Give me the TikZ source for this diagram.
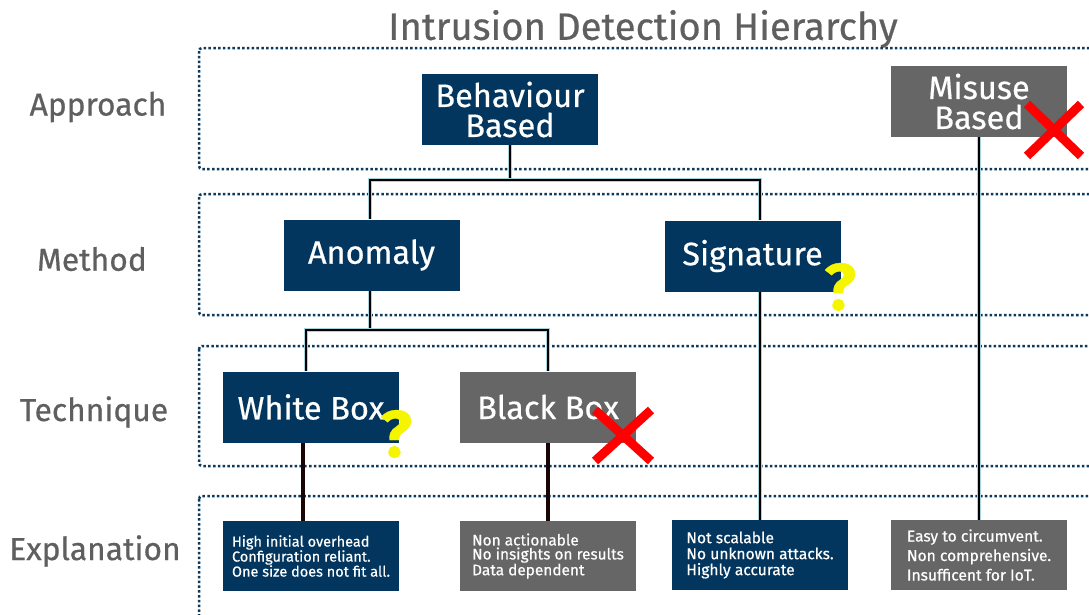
\documentclass[tikz,border=0pt]{standalone}
\usepackage{fontspec}
\setmainfont{Fira Sans}[FakeBold=0.5]
\definecolor{navy}{HTML}{03365F}
\definecolor{slate}{HTML}{666666}
\definecolor{labelgray}{HTML}{5F5F5F}
\definecolor{dotblue}{HTML}{0B3A5E}
\definecolor{halo}{HTML}{A8D4E0}
\definecolor{stem}{HTML}{1A0505}
\definecolor{warnyellow}{HTML}{F5F500}
\tikzset{
  band/.style={draw=dotblue, line width=2.5pt, dash pattern=on 2.5pt off 2.3pt, rounded corners=3pt},
  rowlabel/.style={text=labelgray, font=\fontsize{31.8}{32}\selectfont},
  box/.style={rectangle, minimum width=176pt, minimum height=71pt, inner sep=0pt,
    text=white, align=center, font=\fontsize{32.5}{30}\selectfont},
  note/.style={rectangle, minimum width=176pt, minimum height=70pt, inner sep=0pt,
    align=left, text=white},
  blue/.style={fill=navy},
  grey/.style={fill=slate},
  trunk/.style={draw=black, line width=2.6pt, preaction={draw=halo, line width=4.6pt}},
  drop/.style={draw=stem, line width=3.8pt},
  xmark/.style={draw=red, line width=9pt},
  qmark/.style={text=warnyellow, font=\fontsize{66}{66}\selectfont\bfseries}
}
\begin{document}
\begin{tikzpicture}[x=1pt, y=-1pt]
\useasboundingbox (0,0) rectangle (1089,614);
\clip (0,0) rectangle (1089,614);
\fill[white] (0,0) rectangle (1089,614);

% title
\node[text=labelgray, font=\fontsize{38.2}{38}\selectfont] (title) at (643,29) {Intrusion Detection Hierarchy};

% dotted row bands
\draw[band] (199,48) rectangle (1110,169);
\draw[band] (199,194) rectangle (1110,315);
\draw[band] (199,346) rectangle (1110,466);
\draw[band] (199,496) rectangle (1110,650);

% row labels
\node[rowlabel] (lapproach) at (98,107) {Approach};
\node[rowlabel] (lmethod) at (92,259) {Method};
\node[rowlabel] (ltechnique) at (94,412) {Technique};
\node[rowlabel] (lexplanation) at (95,551) {Explanation};

% hierarchy boxes
\node[box, blue] (bb) at (510,109.5) {Behaviour\\Based};
\node[box, grey] (mis) at (979,101.5) {Misuse\\Based};
\node[box, blue] (anom) at (371.5,255) {Anomaly};
\node[box, blue] (sig) at (752.5,256) {Signature};
\node[box, blue] (wb) at (311,407) {White Box};
\node[box, grey] (blk) at (548,407) {Black Box};

% explanation boxes
\node[note, blue, font=\fontsize{14.5}{15}\selectfont] (wbx) at (311,556) {High initial overhead\\Configuration reliant.\\One size does not fit all.};
\node[note, grey, font=\fontsize{15.4}{14}\selectfont] (blkx) at (548,556) {Non actionable\\No insights on results\\Data dependent};
\node[note, blue, font=\fontsize{15.6}{16}\selectfont] (sigx) at (760,555) {Not scalable\\No unknown attacks.\\Highly accurate};
\node[note, grey, font=\fontsize{15.6}{19.5}\selectfont] (misx) at (979,555) {Easy to circumvent.\\Non comprehensive.\\Insufficent for IoT.};

% connectors
\coordinate (fork1) at (510,180);
\coordinate (fork2) at (370,330);
\draw[trunk] (bb.south) -- (fork1);
\draw[trunk] ([xshift=-1.5pt]anom.north) |- (fork1) -| (sigx.north |- sig.north);
\draw[trunk] ([xshift=-1.5pt]anom.south) -- (fork2);
\draw[trunk] ([xshift=-5pt]wb.north) |- (fork2) -| (blk.north);
\draw[trunk] (sigx.north |- sig.south) -- (sigx.north);
\draw[trunk] (mis.south) -- (misx.north);
\draw[drop] ([xshift=-8pt]wb.south) -- ([xshift=-8pt]wbx.north);
\draw[drop] (blk.south) -- (blkx.north);

% verdict marks
\draw[xmark] (1027,104) -- (1081,156) (1027,156) -- (1081,104);
\draw[xmark] (595,410) -- (651,461) (595,461) -- (651,410);
\node[qmark] (q1) at (840,287) {?};
\node[qmark] (q2) at (396,434) {?};
\end{tikzpicture}
\end{document}
